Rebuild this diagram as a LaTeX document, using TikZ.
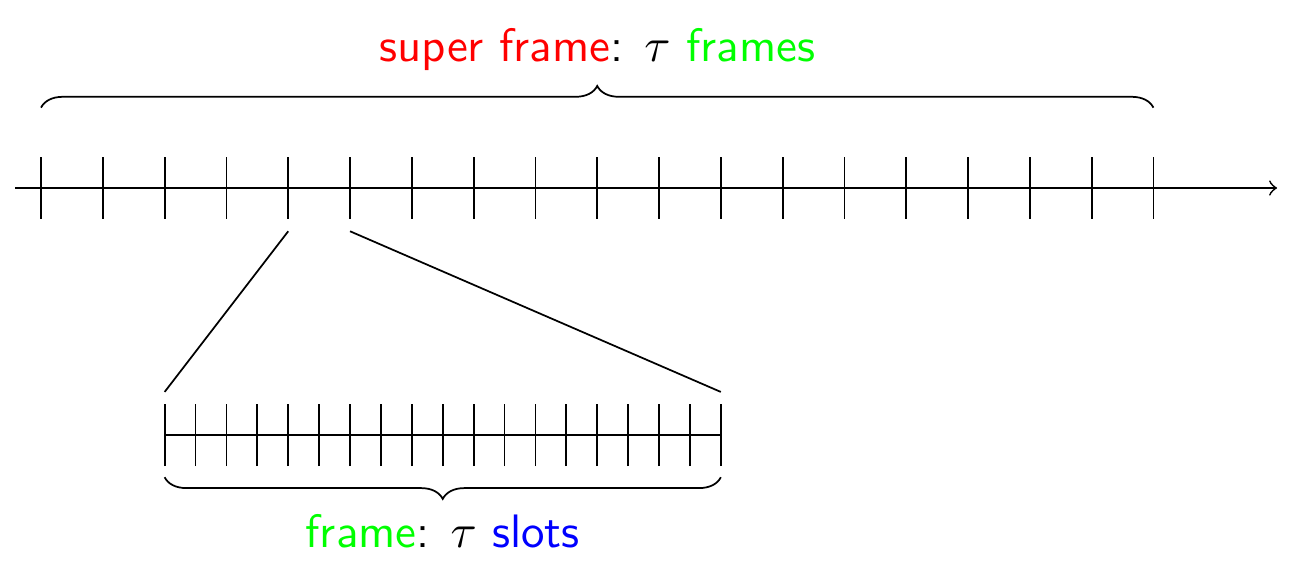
\documentclass[tikz,border=0pt]{standalone}
\usepackage{xcolor}
\usepackage{amsmath}
\usepackage{tikz}
\usetikzlibrary{decorations.pathreplacing, arrows, positioning, calc}

\begin{document}
\begin{tikzpicture}[
  font=\sffamily\fontsize{10.8}{13}\selectfont,
  brace/.style={decorate, decoration={brace, amplitude=5pt}},
  axis/.style={->},
  zoomline/.style={thin}
]
\useasboundingbox (-0.332,-3.034) rectangle (10.105,1.521);

% super frame axis
\coordinate (axisL) at (-0.21,0);
\coordinate (axisR) at (10.0,0);
\draw[axis] (axisL) -- (axisR);
\foreach \i in {0,...,18}
  \draw (\i*0.5,-0.25) -- (\i*0.5,0.25);

% brace over the super frame
\coordinate (superL) at (0,0.65);
\coordinate (superR) at (9,0.65);
\draw[brace] (superL) -- node[above=5pt] (superlbl)
  {\textcolor{red}{super frame}: $\tau$ \textcolor{green}{frames}} (superR);

% one frame, zoomed in
\coordinate (frameL) at (1,-2);
\coordinate (frameR) at (5.5,-2);
\draw (frameL) -- (frameR);
\foreach \j in {0,...,18}
  \draw ($(frameL)+(\j*0.25,-0.25)$) -- ($(frameL)+(\j*0.25,0.25)$);

% zoom lines
\coordinate (srcL) at (2,-0.35);
\coordinate (srcR) at (2.5,-0.35);
\coordinate (dstL) at (1,-1.65);
\coordinate (dstR) at (5.5,-1.65);
\draw[zoomline] (srcL) -- (dstL);
\draw[zoomline] (srcR) -- (dstR);

% brace under the frame
\coordinate (slotR) at (5.5,-2.34);
\coordinate (slotL) at (1,-2.34);
\draw[brace] (slotR) -- node[below=5pt] (framelbl)
  {\textcolor{green}{frame}: $\tau$ \textcolor{blue}{slots}} (slotL);

\end{tikzpicture}
\end{document}
